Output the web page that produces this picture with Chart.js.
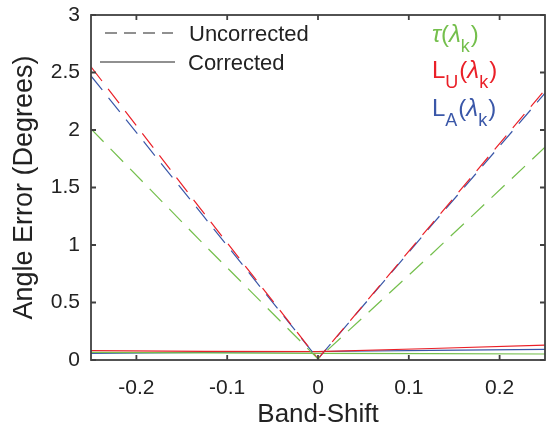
<!DOCTYPE html>
<html>
<head>
<meta charset="utf-8">
<script src="https://cdn.jsdelivr.net/npm/chart.js@4/dist/chart.umd.min.js"></script>
<style>
  body { margin: 0; background: #fff; }
  canvas { display: block; }
</style>
</head>
<body>
<canvas id="band-shift-chart" width="549" height="434"></canvas>
<script>
// band-shift values
const bandShift = [-0.25, -0.125, 0, 0.125, 0.25];

const tauUncorrected = [2.01, 1.0, 0.01, 0.92, 1.85];
const luUncorrected = [2.55, 1.27, 0.01, 1.18, 2.35];
const laUncorrected = [2.47, 1.24, 0.01, 1.17, 2.32];

const tauCorrected = [0.067, 0.062, 0.058, 0.055, 0.052];
const luCorrected = [0.081, 0.075, 0.072, 0.10, 0.13];
const laCorrected = [0.058, 0.066, 0.074, 0.084, 0.093];

const xTicks = [-0.2, -0.1, 0, 0.1, 0.2];
const xTickLabels = ['-0.2', '-0.1', '0', '0.1', '0.2'];
const yTicks = [0, 0.5, 1, 1.5, 2, 2.5, 3];
const yTickLabels = ['0', '0.5', '1', '1.5', '2', '2.5', '3'];

const green = '#74bf4c';
const red = '#ea2028';
const blue = '#3a57a8';
const axisColor = '#404040';
const fontFamily = '"Liberation Sans", Arial, Helvetica, sans-serif';

const toPoints = (ys) => bandShift.map((x, i) => ({ x: x, y: ys[i] }));

function dashed(label, ys, color) {
  return {
    label: label, data: toPoints(ys), borderColor: color, borderWidth: 1.2,
    borderDash: [18, 10], pointRadius: 0, fill: false, tension: 0
  };
}
function solid(label, ys, color) {
  return {
    label: label, data: toPoints(ys), borderColor: color, borderWidth: 1.2,
    pointRadius: 0, fill: false, tension: 0
  };
}

// frame with inward ticks, legend box and the coloured labels
const decorations = {
  id: 'decorations',
  afterDraw(chart) {
    const ctx = chart.ctx;
    const area = chart.chartArea;
    const xs = chart.scales.x, ys = chart.scales.y;
    ctx.save();
    ctx.strokeStyle = axisColor;
    ctx.lineWidth = 1.8;
    ctx.strokeRect(area.left, area.top, area.right - area.left, area.bottom - area.top);
    ctx.beginPath();
    xTicks.forEach(v => {
      const px = xs.getPixelForValue(v);
      ctx.moveTo(px, area.bottom); ctx.lineTo(px, area.bottom - 5);
      ctx.moveTo(px, area.top); ctx.lineTo(px, area.top + 5);
    });
    yTicks.forEach(v => {
      const py = ys.getPixelForValue(v);
      ctx.moveTo(area.left, py); ctx.lineTo(area.left + 5, py);
      ctx.moveTo(area.right, py); ctx.lineTo(area.right - 5, py);
    });
    ctx.stroke();

    // legend
    ctx.strokeStyle = '#222';
    ctx.lineWidth = 1.2;
    ctx.setLineDash([12, 7]);
    ctx.beginPath();
    ctx.moveTo(area.left + 14, area.top + 18);
    ctx.lineTo(area.left + 82, area.top + 18);
    ctx.stroke();
    ctx.setLineDash([]);
    ctx.beginPath();
    ctx.moveTo(area.left + 9, area.top + 47);
    ctx.lineTo(area.left + 84, area.top + 47);
    ctx.stroke();
    ctx.fillStyle = '#222';
    ctx.font = '22px ' + fontFamily;
    ctx.textBaseline = 'alphabetic';
    ctx.fillText('Uncorrected', area.left + 98, area.top + 26);
    ctx.fillText('Corrected', area.left + 97, area.top + 55);

    // series labels: [text, subscript, italic]
    const labels = [
      { parts: [['τ', 0, 1], ['(', 0, 0], ['λ', 0, 1], ['k', 1, 0], [')', 0, 0]], color: green, y: 42 },
      { parts: [['L', 0, 0], ['U', 1, 0], ['(', 0, 0], ['λ', 0, 1], ['k', 1, 0], [')', 0, 0]], color: red, y: 78 },
      { parts: [['L', 0, 0], ['A', 1, 0], ['(', 0, 0], ['λ', 0, 1], ['k', 1, 0], [')', 0, 0]], color: blue, y: 116 }
    ];
    labels.forEach(l => {
      let x = 432;
      ctx.fillStyle = l.color;
      l.parts.forEach(([t, sub, it]) => {
        ctx.font = (it ? 'italic ' : '') + (sub ? '18px ' : '24px ') + fontFamily;
        ctx.fillText(t, x, l.y + (sub ? 10 : 0));
        x += ctx.measureText(t).width + (sub ? 1 : 0);
      });
    });
    ctx.restore();
  }
};

new Chart(document.getElementById('band-shift-chart'), {
  type: 'line',
  data: {
    datasets: [
      dashed('τ uncorrected', tauUncorrected, green),
      dashed('L_U uncorrected', luUncorrected, red),
      dashed('L_A uncorrected', laUncorrected, blue),
      solid('τ corrected', tauCorrected, green),
      solid('L_U corrected', luCorrected, red),
      solid('L_A corrected', laCorrected, blue)
    ]
  },
  options: {
    responsive: false,
    animation: false,
    layout: { padding: { top: 15, right: 4, left: 0, bottom: 0 } },
    plugins: { legend: { display: false }, tooltip: { enabled: false } },
    scales: {
      x: {
        type: 'linear', min: -0.25, max: 0.25,
        grid: { display: false, drawTicks: false },
        border: { display: false },
        afterBuildTicks: (scale) => { scale.ticks = xTicks.map(v => ({ value: v })); },
        afterFit: (scale) => {
          scale.height = 74;
          scale.paddingLeft = 0; scale.paddingRight = 0;
        },
        ticks: {
          color: '#222', padding: 16,
          font: { family: fontFamily, size: 21 },
          callback: (v, i) => xTickLabels[i]
        },
        title: {
          display: true, text: 'Band-Shift', color: '#222',
          font: { family: fontFamily, size: 26 }, padding: { bottom: 4 }
        }
      },
      y: {
        type: 'linear', min: 0, max: 3,
        grid: { display: false, drawTicks: false },
        border: { display: false },
        afterBuildTicks: (scale) => { scale.ticks = yTicks.map(v => ({ value: v })); },
        afterFit: (scale) => {
          scale.width = 91;
          scale.paddingTop = 0; scale.paddingBottom = 0;
        },
        ticks: {
          color: '#222', padding: 11,
          font: { family: fontFamily, size: 21 },
          callback: (v, i) => yTickLabels[i]
        },
        title: {
          display: true, text: 'Angle Error (Degrees)', color: '#222',
          font: { family: fontFamily, size: 27 }, padding: { top: 8 }
        }
      }
    }
  },
  plugins: [decorations]
});
</script>
</body>
</html>
